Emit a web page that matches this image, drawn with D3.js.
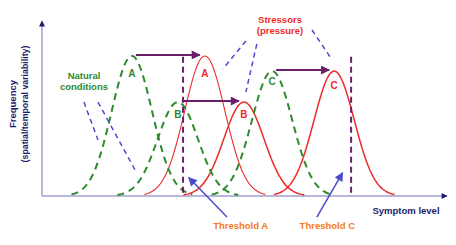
<!DOCTYPE html>
<html>
<head>
<meta charset="utf-8">
<script src="https://cdn.jsdelivr.net/npm/d3@7"></script>
<style>
body{margin:0;background:#fff;}
svg{display:block;}
text{font-family:"Liberation Sans",Arial,sans-serif;font-weight:bold;}
</style>
</head>
<body>
<div id="chart"></div>
<script>
// ── DONNÉES ─────────────────────────────────────────────
const curveNames=["A","B","C"];
const naturalMean=[22.3,33.7,57.1];
const stressedMean=[40.4,50.1,72.5];
const peakHeight=[80.5,54,71.8];
const labelHeight=[70.5,47,66];
const spread=5;

const thresholdNames=["Threshold A","Threshold C"];
const thresholdLevel=[35,76.7];
const thresholdTop=[80,80];
// pointer arrows: [x0,y0,x1,y1] (tail → tip)
const thresholdArrows=[[45.9,-12.1,36.4,10.6],[68.2,-12.1,74.6,13.4]];
const thresholdLabelX=[49.3,70.8];

const naturalPointers=[[10.4,54,13.9,32.2],[13.9,54,23.1,14.9]];
const stressorPointers=[[50.6,89.1,44.9,73],[53.3,87.4,50.6,59.8],[67,95.4,72,78.2]];

const W=456,H=245;
const GREEN="#2d8a2d",RED="#ee2b2b",PURPLE="#6b1f6b",BLUE="#4a4acb",ORANGE="#f47c20",NAVY="#1c1c6e",AXIS="#a0a0d0";

const x=d3.scaleLinear().domain([0,100]).range([42,445]);
const y=d3.scaleLinear().domain([0,100]).range([196,22]);

const svg=d3.select("#chart").append("svg").attr("width",W).attr("height",H);
const defs=svg.append("defs");
const mk=(id,col,w,h)=>defs.append("marker").attr("id",id).attr("viewBox","0 0 10 10").attr("refX",9).attr("refY",5)
  .attr("markerUnits","userSpaceOnUse").attr("markerWidth",w).attr("markerHeight",h).attr("orient","auto")
  .append("path").attr("d","M0,0 L10,5 L0,10 z").attr("fill",col);
mk("arP",PURPLE,10,9);
mk("arB",BLUE,10,9);
mk("arN",NAVY,7,6);

// ── AXES ────────────────────────────────────────────────
svg.append("line").attr("x1",x(0)).attr("y1",y(0)).attr("x2",x(100)+2).attr("y2",y(0))
  .attr("stroke",AXIS).attr("stroke-width",1.5).attr("marker-end","url(#arN)");
svg.append("line").attr("x1",x(0)).attr("y1",y(0)).attr("x2",x(0)).attr("y2",y(100)-1)
  .attr("stroke",AXIS).attr("stroke-width",1.5).attr("marker-end","url(#arN)");

// ── COURBES ─────────────────────────────────────────────
const line=d3.line().x(d=>x(d[0])).y(d=>y(d[1])).curve(d3.curveBasis);
const bell=(mu,h)=>d3.range(mu-3*spread,mu+3*spread+0.001,0.25).map(v=>[v,h*Math.exp(-((v-mu)**2)/(2*spread*spread))]);

curveNames.forEach((n,i)=>{
  svg.append("path").attr("d",line(bell(stressedMean[i],peakHeight[i]))).attr("fill","none")
    .attr("stroke",RED).attr("stroke-width",i===0?1.1:1.5);
  svg.append("path").attr("d",line(bell(naturalMean[i],peakHeight[i]))).attr("fill","none")
    .attr("stroke",GREEN).attr("stroke-width",2).attr("stroke-dasharray","7,5");
});

// ── SEUILS ──────────────────────────────────────────────
thresholdLevel.forEach((t,i)=>{
  svg.append("line").attr("x1",x(t)).attr("x2",x(t)).attr("y1",y(thresholdTop[i])).attr("y2",y(0))
    .attr("stroke",PURPLE).attr("stroke-width",2).attr("stroke-dasharray","6,4");
});

// ── FLÈCHES DE DÉPLACEMENT ──────────────────────────────
curveNames.forEach((n,i)=>{
  svg.append("line").attr("x1",x(naturalMean[i])+4).attr("x2",x(stressedMean[i])-5)
    .attr("y1",y(peakHeight[i])-1).attr("y2",y(peakHeight[i])-1)
    .attr("stroke",PURPLE).attr("stroke-width",2).attr("marker-end","url(#arP)");
  svg.append("text").attr("x",x(naturalMean[i])).attr("y",y(labelHeight[i])+4).attr("text-anchor","middle")
    .attr("font-size",10).attr("fill",GREEN).text(n);
  svg.append("text").attr("x",x(stressedMean[i])).attr("y",y(labelHeight[i]-(i===2?2:0))+4).attr("text-anchor","middle")
    .attr("font-size",10).attr("fill",RED).text(n);
});

// ── POINTEURS ───────────────────────────────────────────
naturalPointers.concat(stressorPointers).forEach(p=>{
  svg.append("line").attr("x1",x(p[0])).attr("y1",y(p[1])).attr("x2",x(p[2])).attr("y2",y(p[3]))
    .attr("stroke",BLUE).attr("stroke-width",1.5).attr("stroke-dasharray","5,4");
});
thresholdArrows.forEach(p=>{
  svg.append("line").attr("x1",x(p[0])).attr("y1",y(p[1])).attr("x2",x(p[2])).attr("y2",y(p[3]))
    .attr("stroke",BLUE).attr("stroke-width",1.5).attr("marker-end","url(#arB)");
});

// ── TEXTES ──────────────────────────────────────────────
thresholdNames.forEach((t,i)=>{
  svg.append("text").attr("x",x(thresholdLabelX[i])).attr("y",229).attr("text-anchor","middle")
    .attr("font-size",9.5).attr("fill",ORANGE).text(t);
});
const lbl=(tx,ty,s,col)=>svg.append("text").attr("x",tx).attr("y",ty).attr("text-anchor","middle")
  .attr("font-size",9.5).attr("fill",col).text(s);
lbl(84,78.5,"Natural",GREEN);
lbl(84,89.5,"conditions",GREEN);
lbl(280,22.5,"Stressors",RED);
lbl(280,33.5,"(pressure)",RED);
lbl(406,213.5,"Symptom level",NAVY);

svg.append("text").attr("transform","translate(15.5,104) rotate(-90)").attr("text-anchor","middle")
  .attr("font-size",9.5).attr("fill",NAVY).text("Frequency");
svg.append("text").attr("transform","translate(27.5,104) rotate(-90)").attr("text-anchor","middle")
  .attr("font-size",8.8).attr("fill",NAVY).text("(spatial/temporal variability)");
</script>
</body>
</html>
